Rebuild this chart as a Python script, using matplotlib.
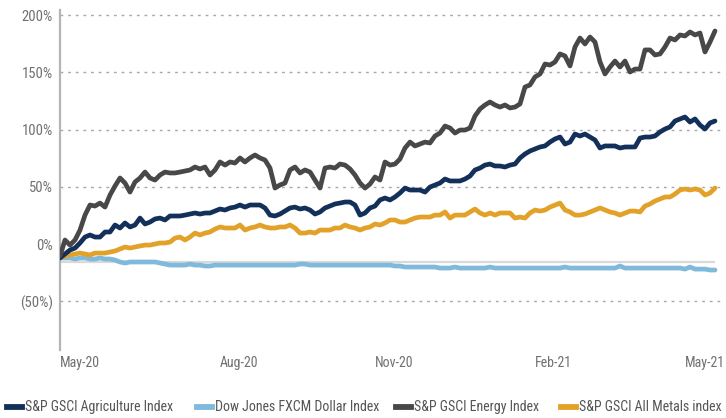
import matplotlib
matplotlib.use("Agg")
import matplotlib.pyplot as plt
from matplotlib.lines import Line2D
from matplotlib import font_manager
import numpy as np

avail = {f.name for f in font_manager.fontManager.ttflist}
narrow = [n for n in ["Roboto Condensed", "Liberation Sans Narrow", "Open Sans Condensed",
                      "DejaVu Sans Condensed"] if n in avail]
plt.rcParams['font.family'] = narrow + ['Roboto', 'DejaVu Sans']
condensed = len(narrow) > 0

# ---- data (percent change) ----
series_names = ["S&P GSCI Agriculture Index", "Dow Jones FXCM Dollar Index",
                "S&P GSCI Energy Index", "S&P GSCI All Metals index"]

energy = [-10.5, 3.5, -0.9, 3.5, 12.2, 25.3, 34.1, 33.2, 35.8, 32.3,
          42.8, 50.7, 57.7, 53.3, 45.4, 54.2, 57.7, 62.9, 57.7, 55.9,
          60.3, 62.9, 62.1, 62.1, 62.9, 63.8, 64.7, 67.3, 65.6, 67.3,
          60.3, 64.7, 71.7, 69.0, 71.7, 70.8, 75.2, 71.7, 75.2, 77.8,
          75.2, 73.4, 66.4, 48.9, 51.6, 53.3, 64.7, 67.3, 62.1, 64.7,
          62.9, 55.9, 48.9, 66.4, 67.3, 66.4, 69.9, 69.0, 65.6, 60.3,
          53.3, 48.9, 52.4, 58.6, 55.9, 71.7, 69.0, 69.9, 74.3, 83.9,
          89.1, 85.7, 87.4, 89.1, 88.3, 94.4, 97.0, 103.1, 101.4, 97.0,
          99.6, 99.6, 101.4, 111.9, 118.0, 121.5, 124.1, 121.5, 119.7, 121.5,
          118.9, 119.7, 122.4, 137.2, 139.0, 146.0, 148.6, 157.3, 156.4, 159.1,
          166.1, 164.3, 155.6, 172.2, 180.0, 174.8, 180.9, 176.5, 159.1, 148.6,
          154.7, 159.9, 154.7, 159.9, 150.3, 152.9, 152.9, 169.6, 169.6, 165.2,
          166.1, 172.2, 180.0, 178.3, 182.7, 181.8, 185.3, 182.7, 184.4, 167.8,
          176.5, 186.2]

agriculture = [-12.2, -8.7, -5.2, -3.5, 0.9, 6.1, 7.9, 6.1, 6.1, 10.5,
               10.5, 16.6, 14.0, 18.4, 14.9, 16.6, 22.7, 17.5, 19.2, 21.9,
               22.7, 21.0, 24.5, 24.5, 24.5, 25.3, 26.2, 27.1, 26.2, 27.1,
               27.1, 28.8, 30.6, 29.7, 31.5, 32.3, 34.1, 32.3, 34.1, 34.1,
               34.1, 31.5, 25.3, 24.5, 26.2, 28.8, 31.5, 32.3, 30.6, 31.5,
               29.7, 26.2, 28.0, 31.5, 33.2, 35.0, 35.8, 36.7, 36.7, 34.1,
               25.3, 27.1, 31.5, 33.2, 38.5, 40.2, 38.5, 41.1, 44.6, 48.9,
               47.2, 47.2, 47.2, 45.4, 49.8, 51.6, 53.3, 56.8, 55.1, 55.1,
               55.1, 56.8, 59.4, 64.7, 66.4, 69.0, 69.9, 68.2, 68.2, 67.3,
               69.0, 69.9, 75.2, 78.7, 81.3, 83.0, 84.8, 85.7, 89.1, 91.8,
               93.5, 87.4, 89.1, 96.1, 94.4, 96.1, 93.5, 90.9, 83.9, 85.7,
               85.7, 85.7, 83.9, 84.8, 84.8, 84.8, 92.6, 93.5, 93.5, 94.4,
               97.9, 100.5, 102.3, 107.5, 109.3, 111.0, 106.6, 109.3, 104.0, 100.5,
               105.8, 107.5]

metals = [-12.2, -10.5, -9.6, -8.7, -7.9, -8.7, -9.6, -7.9, -7.9, -7.9,
          -7.0, -6.1, -4.4, -2.6, -3.5, -2.6, -1.7, -0.9, -0.9, 0.0,
          0.9, 0.9, 1.7, 5.2, 6.1, 3.5, 6.1, 9.6, 7.9, 9.6,
          10.5, 13.1, 14.9, 14.0, 14.0, 14.0, 16.6, 12.2, 14.0, 14.9,
          16.6, 14.9, 14.0, 14.0, 14.9, 14.9, 16.6, 14.0, 9.6, 9.6,
          10.5, 9.6, 12.2, 12.2, 12.2, 14.0, 14.0, 16.6, 14.9, 14.0,
          12.2, 14.0, 14.9, 17.5, 16.6, 18.4, 21.0, 21.0, 19.2, 19.2,
          21.0, 22.7, 23.6, 23.6, 23.6, 25.3, 25.3, 28.0, 22.7, 25.3,
          25.3, 25.3, 28.0, 30.6, 27.1, 25.3, 27.1, 25.3, 27.1, 27.1,
          27.1, 22.7, 23.6, 22.7, 27.1, 29.7, 28.8, 29.7, 32.3, 34.1,
          35.8, 29.7, 28.0, 25.3, 25.3, 26.2, 28.0, 29.7, 31.5, 29.7,
          28.0, 27.1, 25.3, 27.1, 28.8, 28.8, 28.0, 33.2, 35.0, 37.6,
          39.3, 41.1, 41.1, 43.7, 47.2, 48.1, 47.2, 48.1, 47.2, 42.8,
          44.6, 48.9]

dollar = [-12.2, -12.2, -12.2, -13.1, -12.2, -12.2, -13.1, -13.1, -12.2, -13.1,
          -13.1, -14.0, -15.7, -16.6, -15.7, -15.7, -15.7, -15.7, -15.7, -15.7,
          -16.6, -17.5, -18.4, -18.4, -18.4, -18.4, -17.5, -18.4, -18.4, -19.2,
          -19.2, -18.4, -18.4, -18.4, -18.4, -18.4, -18.4, -18.4, -18.4, -18.4,
          -18.4, -18.4, -18.4, -18.4, -18.4, -18.4, -18.4, -18.4, -17.5, -17.5,
          -18.4, -18.4, -18.4, -18.4, -18.4, -18.4, -18.4, -18.4, -18.4, -18.4,
          -18.4, -18.4, -18.4, -18.4, -18.4, -18.4, -18.4, -19.2, -19.2, -20.1,
          -20.1, -20.1, -20.1, -20.1, -20.1, -20.1, -21.0, -21.0, -21.0, -20.1,
          -21.0, -21.0, -21.0, -21.0, -21.0, -21.0, -20.1, -21.0, -21.0, -21.0,
          -21.0, -21.0, -21.0, -21.0, -21.0, -21.0, -21.0, -21.0, -21.0, -21.0,
          -21.0, -20.1, -21.0, -21.0, -21.0, -21.0, -21.0, -21.0, -21.0, -21.0,
          -21.0, -21.0, -19.2, -21.0, -21.0, -21.0, -21.0, -21.0, -21.0, -21.0,
          -21.0, -21.0, -21.0, -21.0, -21.0, -21.9, -20.1, -21.9, -21.9, -21.9,
          -22.7, -22.7]

baseline_value = -15.7
x_tick_labels = ["May-20", "Aug-20", "Nov-20", "Feb-21", "May-21"]
x_tick_pos = [0, 32, 63, 95, 125]
y_ticks = [-50, 0, 50, 100, 150, 200]
y_tick_labels = ["(50%)", "0%", "50%", "100%", "150%", "200%"]

colors = ["#13305a", "#80b9db", "#484848", "#e2a229"]

days = np.arange(len(energy))

fig = plt.figure(figsize=(7.26, 4.18), dpi=100)
ax = fig.add_axes([60/726, 1 - 350/418, (723 - 60)/726, 340/418])

ax.hlines(baseline_value, days[0], days[-1], color="#d9d9d9", lw=1.6, zorder=1)

lw = 3.4
ax.plot(days, dollar, color=colors[1], lw=lw, solid_capstyle="round", zorder=2)
ax.plot(days, metals, color=colors[3], lw=lw, solid_capstyle="round", zorder=3)
ax.plot(days, agriculture, color=colors[0], lw=lw, solid_capstyle="round", zorder=4)
ax.plot(days, energy, color=colors[2], lw=lw, solid_capstyle="round", zorder=5)

ax.set_xlim(0, (723 - 60) / 5)
ax.set_ylim(-92.6, 204.5)

fs_leg = 10 if condensed else 8.6
fs_x = 10 if condensed else 9
fs_y = 10.5 if condensed else 9.5
ax.set_yticks(y_ticks)
ax.set_yticklabels(y_tick_labels)
ax.set_xticks(x_tick_pos)
ax.set_xticklabels(x_tick_labels, ha="left")
ax.tick_params(axis="x", length=0, labelsize=fs_x, labelcolor="#707070", pad=4)
ax.tick_params(axis="y", length=0, labelsize=fs_y, labelcolor="#707070", pad=5)

ax.yaxis.grid(True, color="#a8a8a8", lw=1.0, linestyle=(0, (2, 3.5)))
ax.set_axisbelow(True)
ax.get_ygridlines()[1].set_visible(False)

for s in ["top", "right", "bottom"]:
    ax.spines[s].set_visible(False)
ax.spines["left"].set_color("#b5b5b5")
ax.spines["left"].set_linewidth(1.6)

# legend, laid out like the reference (handle + text per entry)
leg_handle_x = [7, 197, 396, 561]
leg_y = 1 - 407 / 418
for hx, name, c in zip(leg_handle_x, series_names, colors):
    fig.add_artist(Line2D([hx / 726, (hx + 15) / 726], [leg_y, leg_y],
                          transform=fig.transFigure, color=c, lw=4.2))
    fig.text((hx + 18) / 726, leg_y, name, fontsize=fs_leg, color="#555555",
             ha="left", va="center")

fig.savefig("out.png", dpi=100)
